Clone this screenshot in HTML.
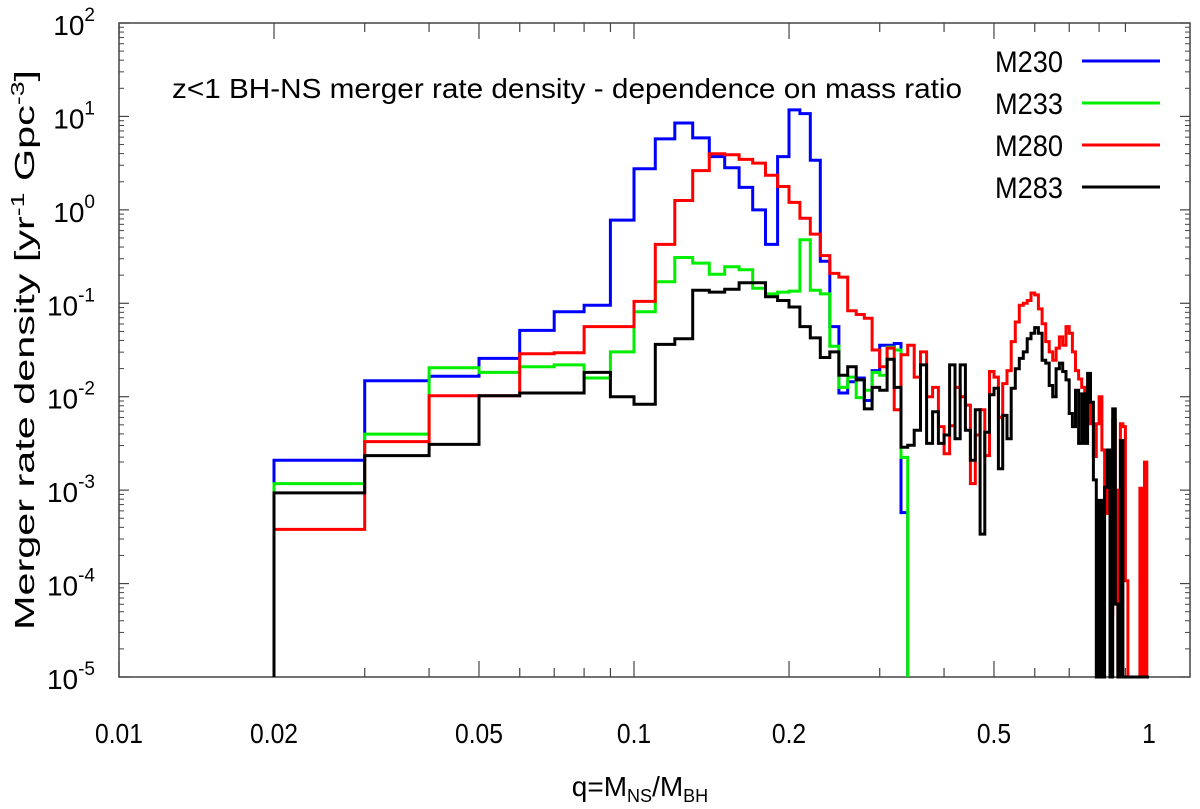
<!DOCTYPE html>
<html><head><meta charset="utf-8"><style>
html,body{margin:0;padding:0;background:#fff;}
svg{display:block;font-family:"Liberation Sans","DejaVu Sans",sans-serif;}
</style></head><body>
<svg id="chart" width="1200" height="809" viewBox="0 0 1200 809" xmlns="http://www.w3.org/2000/svg">
<rect x="119" y="23" width="1071" height="654" fill="none" stroke="#444" stroke-width="1.5"/>
<g id="ticks"></g>
<g id="series"></g>
<text x="172" y="98" font-size="28" textLength="790" lengthAdjust="spacingAndGlyphs">z&lt;1 BH-NS merger rate density - dependence on mass ratio</text>
<text x="640" y="796" font-size="28" text-anchor="middle">q=M<tspan font-size="18" dy="6">NS</tspan><tspan dy="-6">/M</tspan><tspan font-size="18" dy="6">BH</tspan></text>
<text transform="translate(34,350) rotate(-90)" font-size="28" text-anchor="middle" textLength="560" lengthAdjust="spacingAndGlyphs">Merger rate density [yr<tspan font-size="18" dy="-10">-1</tspan><tspan dy="10"> Gpc</tspan><tspan font-size="18" dy="-10">-3</tspan><tspan dy="10">]</tspan></text>
<g id="legend"></g>
</svg>
<script>
const binEdges=[0.02,0.03,0.04,0.05,0.06,0.07,0.08,0.09,0.10,0.11,0.12,0.13,0.14,0.15,0.16,0.17,0.18,0.19,0.20,0.21,0.22,0.23,0.24,0.25,0.26,0.27,0.28,0.29,0.30,0.31,0.32,0.33,0.34,0.35,0.36,0.37,0.38,0.39,0.40,0.41,0.42,0.43,0.44,0.45,0.46,0.47,0.48,0.49,0.50,0.51,0.52,0.53,0.54,0.55,0.56,0.57,0.58,0.59,0.60,0.61,0.62,0.63,0.64,0.65,0.66,0.67,0.68,0.69,0.70,0.71,0.72,0.73,0.74,0.75,0.76,0.77,0.78,0.79,0.80,0.81,0.82,0.83,0.84,0.85,0.86,0.87,0.88,0.89,0.90,0.91,0.92,0.93,0.94,0.95,0.96,0.97,0.98,0.99,1.00];
// log10 of merger rate density per bin
const m230Log10=[-2.68,-1.83,-1.78,-1.59,-1.29,-1.09,-1.02,-0.11,0.44,0.76,0.93,0.77,0.57,0.45,0.24,0.0,-0.37,0.57,1.07,1.03,0.53,-0.55,-1.25,-1.96,-1.84,-1.80,-2.04,-1.72,-1.45,-1.45,-1.43,-3.24];
const m233Log10=[-2.93,-2.40,-1.69,-1.74,-1.68,-1.66,-1.80,-1.52,-1.09,-0.77,-0.51,-0.57,-0.69,-0.61,-0.64,-0.84,-0.90,-0.88,-0.87,-0.32,-0.86,-0.90,-1.46,-1.90,-1.79,-2.01,-1.93,-1.74,-1.77,-1.47,-1.50,-2.65];
const m280Log10=[-3.42,-2.48,-1.99,-1.99,-1.54,-1.53,-1.25,-1.25,-0.98,-0.37,0.10,0.42,0.60,0.59,0.54,0.50,0.37,0.25,0.08,-0.09,-0.26,-0.49,-0.68,-0.72,-1.08,-1.12,-1.16,-1.50,-1.68,-1.48,-2.14,-1.55,
-1.45,-1.79,-1.52,-2.0,-1.9,-2.32,-2.61,-2.31,-1.9,-2.0,-2.09,-2.93,-2.41,-2.14,-2.63,-1.73,-1.79,-2.22,-1.86,-1.72,-1.41,-1.2,-1.02,-1.0,-0.97,-0.89,-0.91,-1.06,-1.22,-1.41,-1.52,-1.61,-1.48,-1.36,-1.45,-1.25,-1.32,-1.52,-1.72,-1.81,-1.9,-1.98,-2.04,-2.29,-2.64,-2.29,-2.0,-2.57,-3.25,-2.57,-4.32,-2.25,-3.0,-5,-2.29,-2.32,-3.97,-5,-5,-5,-5,-5,-2.98,-5,-2.7,-5];
const m283Log10=[-3.03,-2.63,-2.51,-1.99,-1.96,-1.96,-1.74,-2.0,-2.08,-1.44,-1.38,-0.86,-0.88,-0.85,-0.78,-0.78,-0.93,-0.97,-1.04,-1.25,-1.37,-1.58,-1.52,-1.77,-1.68,-1.82,-2.13,-1.90,-1.93,-1.60,-1.90,-2.54,
-2.52,-2.36,-1.66,-2.5,-2.16,-2.5,-2.41,-1.66,-2.45,-1.66,-2.36,-2.68,-2.14,-3.47,-2.38,-1.98,-1.91,-2.77,-2.2,-2.45,-1.91,-1.7,-1.59,-1.52,-1.38,-1.32,-1.26,-1.32,-1.61,-1.64,-1.88,-2.0,-1.7,-1.64,-1.73,-1.82,-2.18,-2.32,-1.93,-2.5,-1.97,-2.5,-1.75,-2.06,-2.89,-5,-3.11,-5,-2.97,-2.57,-5,-2.13,-4.22,-5,-2.47,-5,-5,-5,-5,-5,-5,-5,-5,-5,-5,-5];
const seriesNames=["M230","M233","M280","M283"];
const seriesColors=["#0000ff","#00ee00","#ff0000","#000000"];
const xTickValues=[0.01,0.02,0.05,0.1,0.2,0.5,1];
const xTickLabels=["0.01","0.02","0.05","0.1","0.2","0.5","1"];
const yTickExps=[-5,-4,-3,-2,-1,0,1,2];

const L=119,R=1190,T=23,B=677;
function xs(q){return 119+515*(Math.log10(q)+2);}
function ys(lg){lg=Math.max(-5,Math.min(2,lg));return B-(lg+5)*(B-T)/7;}
const NS="http://www.w3.org/2000/svg";
function mk(tag,attrs,parent){const e=document.createElementNS(NS,tag);for(const k in attrs)e.setAttribute(k,attrs[k]);parent.appendChild(e);return e;}

const tg=document.getElementById('ticks');
for(let d=-2;d<0;d++){for(let m=1;m<10;m++){const q=m*Math.pow(10,d);const x=xs(q);const major=xTickValues.some(v=>Math.abs(v-q)<1e-9);const len=major?16:9;
 const t1=mk('line',{x1:x,x2:x,y1:B,y2:B-len,stroke:'#444','stroke-width':1.2},tg);
 
 
 const t2=mk('line',{x1:x,x2:x,y1:T,y2:T+len,stroke:'#444','stroke-width':1.2},tg);
 
 
}}
xTickValues.forEach((v,i)=>{const t=mk('text',{x:xs(v),y:743,'font-size':28,'text-anchor':'middle',transform:'translate('+xs(v)+',0) scale(0.88,1) translate('+(-xs(v))+',0)'},tg);t.textContent=xTickLabels[i];
 
 
});
yTickExps.forEach(e=>{const y=ys(e);
 [[L,L+10],[R,R-10]].forEach(p=>{const l=mk('line',{x1:p[0],x2:p[1],y1:y,y2:y,stroke:'#444','stroke-width':1.2},tg);
  
  });
 if(e<2){for(let m=2;m<10;m++){const yy=ys(e+Math.log10(m));
  [[L,L+5],[R,R-5]].forEach(p=>{const l=mk('line',{x1:p[0],x2:p[1],y1:yy,y2:yy,stroke:'#444','stroke-width':1},tg);
   
   });}}
 const t=mk('text',{x:95,y:y+12,'font-size':28,'text-anchor':'end'},tg);
 
 
 t.innerHTML='10<tspan font-size="19" dy="-14">'+e+'</tspan>';
});
const sg=document.getElementById('series');
[m230Log10,m233Log10,m280Log10,m283Log10].forEach((vals,si)=>{
 let d='M'+xs(binEdges[0]).toFixed(1)+','+B;
 vals.forEach((v,i)=>{const y=ys(v).toFixed(1);d+=' L'+xs(binEdges[i]).toFixed(1)+','+y+' L'+xs(binEdges[i+1]).toFixed(1)+','+y;});
 d+=' L'+xs(binEdges[vals.length]).toFixed(1)+','+B;
 const p=mk('path',{d:d,fill:'none',stroke:seriesColors[si],'stroke-width':3,'stroke-linejoin':'miter'},sg);
 
 
});
const lg=document.getElementById('legend');
seriesNames.forEach((n,i)=>{const y=61+i*42;
 const t=mk('text',{x:995,y:y+11,'font-size':30,textLength:68,lengthAdjust:'spacingAndGlyphs'},lg);t.textContent=n;
 
 
 const l=mk('line',{x1:1082,x2:1160,y1:y,y2:y,stroke:seriesColors[i],'stroke-width':3},lg);
 
 
});
</script>
</body></html>
